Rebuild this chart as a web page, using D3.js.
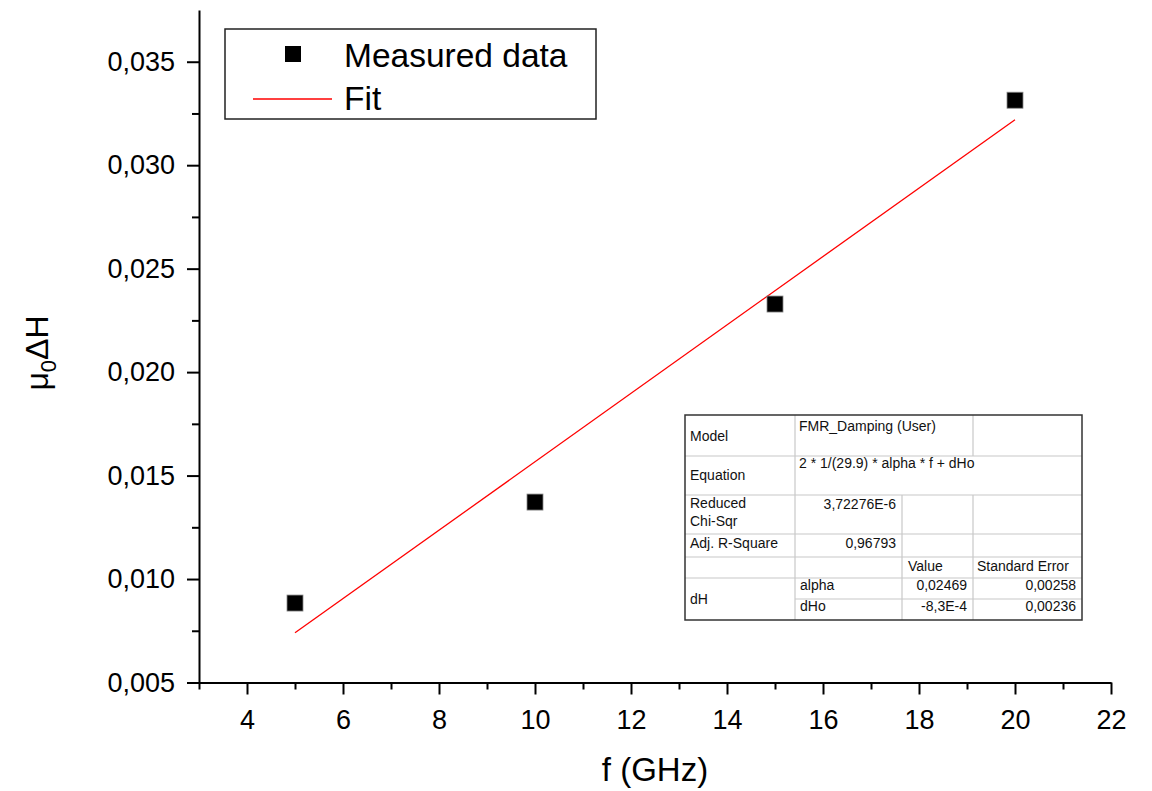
<!DOCTYPE html>
<html>
<head>
<meta charset="utf-8">
<script src="https://cdn.jsdelivr.net/npm/d3@7/dist/d3.min.js"></script>
<style>
  body { margin: 0; background: #fff; }
  svg { font-family: "Liberation Sans", Arial, sans-serif; }
</style>
</head>
<body>
<svg id="chart"></svg>
<script>
// data
var freq = [5, 10, 15, 20];
var linewidth = [0.00884, 0.01372, 0.02329, 0.03314];
var fitFreq = [5, 20];
var fitWidth = [0.0074, 0.0322];
var xTicks = [4, 6, 8, 10, 12, 14, 16, 18, 20, 22];
var xMinor = [3, 5, 7, 9, 11, 13, 15, 17, 19, 21];
var yTicks = [0.005, 0.010, 0.015, 0.020, 0.025, 0.030, 0.035];
var yMinor = [0.0075, 0.0125, 0.0175, 0.0225, 0.0275, 0.0325];
var legendLabels = ['Measured data', 'Fit'];

// fit report table (text only)
var tableModel = ['Model', 'FMR_Damping (User)'];
var tableEquation = ['Equation', '2 * 1/(29.9) * alpha * f + dHo'];
var tableChi = ['Reduced', 'Chi-Sqr', '3,72276E-6'];
var tableR2 = ['Adj. R-Square', '0,96793'];
var tableHeader = ['Value', 'Standard Error'];
var tableParams = [
  ['alpha', '0,02469', '0,00258'],
  ['dHo', '-8,3E-4', '0,00236']
];

var width = 1152;
var height = 791;

var svg = d3.select('#chart')
  .attr('width', width)
  .attr('height', height);

var x = d3.scaleLinear().domain([3, 22]).range([199, 1111]);
var y = d3.scaleLinear().domain([0.005, 0.0375]).range([682.5, 10]);

var comma = function(d) { return d3.format('.3f')(d).replace('.', ','); };

// y axis
var yAxis = svg.append('g')
  .attr('transform', 'translate(' + x(3) + ',0)')
  .call(d3.axisLeft(y).tickValues(yTicks).tickSize(12).tickSizeOuter(0).tickPadding(12).tickFormat(comma));
yAxis.select('.domain').attr('stroke-width', 2);
yAxis.selectAll('.tick line').attr('stroke-width', 2);
yAxis.selectAll('text').style('font-size', '27px').attr('fill', '#000');

svg.append('g')
  .attr('transform', 'translate(' + x(3) + ',0)')
  .call(d3.axisLeft(y).tickValues(yMinor).tickSize(7).tickFormat(''))
  .call(g => g.select('.domain').remove())
  .selectAll('line').attr('stroke-width', 2);

// x axis
var xAxis = svg.append('g')
  .attr('transform', 'translate(0,' + y(0.005) + ')')
  .call(d3.axisBottom(x).tickValues(xTicks).tickSize(12).tickSizeOuter(0).tickPadding(15));
xAxis.select('.domain').attr('stroke-width', 2);
xAxis.selectAll('.tick line').attr('stroke-width', 2);
xAxis.selectAll('text').style('font-size', '27px').attr('fill', '#000');

svg.append('g')
  .attr('transform', 'translate(0,' + y(0.005) + ')')
  .call(d3.axisBottom(x).tickValues(xMinor).tickSize(7).tickFormat(''))
  .call(g => g.select('.domain').remove())
  .selectAll('line').attr('stroke-width', 2);

// axis titles
svg.append('text')
  .attr('x', (x(3) + x(22)) / 2)
  .attr('y', 781)
  .attr('text-anchor', 'middle')
  .style('font-size', '33px')
  .text('f (GHz)');

var yTitle = svg.append('text')
  .attr('transform', 'translate(48,' + 353 + ') rotate(-90)')
  .attr('text-anchor', 'middle')
  .style('font-size', '32px');
yTitle.append('tspan').text('\u03bc');
yTitle.append('tspan').attr('dy', 8).style('font-size', '22px').text('0');
yTitle.append('tspan').attr('dy', -8).text('\u0394H');

// fit line
svg.append('path')
  .datum(fitFreq.map((f, i) => [f, fitWidth[i]]))
  .attr('fill', 'none')
  .attr('stroke', '#ff0000')
  .attr('stroke-width', 1.3)
  .attr('d', d3.line().x(d => x(d[0])).y(d => y(d[1])));

// measured points
var size = 16;
svg.selectAll('rect.pt')
  .data(freq)
  .enter()
  .append('rect')
    .attr('class', 'pt')
    .attr('x', d => x(d) - size / 2)
    .attr('y', (d, i) => y(linewidth[i]) - size / 2)
    .attr('width', size)
    .attr('height', size)
    .attr('fill', '#000')
    .attr('stroke', '#888')
    .attr('stroke-width', 0.8);

// legend
var legend = svg.append('g');
legend.append('rect')
  .attr('x', 225).attr('y', 29)
  .attr('width', 371).attr('height', 90)
  .attr('fill', '#fff')
  .attr('stroke', '#222')
  .attr('stroke-width', 1.5);
legend.append('rect')
  .attr('x', 293 - 8).attr('y', 54 - 8)
  .attr('width', 16).attr('height', 16)
  .attr('fill', '#000');
legend.append('line')
  .attr('x1', 253).attr('x2', 332)
  .attr('y1', 99).attr('y2', 99)
  .attr('stroke', '#ff0000')
  .attr('stroke-width', 1.3);
legend.selectAll('text')
  .data(legendLabels)
  .enter()
  .append('text')
    .attr('x', 344)
    .attr('y', (d, i) => 67 + i * 43)
    .style('font-size', '33.5px')
    .text(d => d);

// fit report table
var cx = [685, 795, 902, 973, 1082];
var ry = [415, 456, 495, 534, 557, 578, 599, 620];
var tbl = svg.append('g').style('font-size', '14px').attr('fill', '#111');
var grid = '#c8c8c8';

var hLines = [[cx[0], ry[1]], [cx[0], ry[2]], [cx[0], ry[3]], [cx[0], ry[4]], [cx[0], ry[5]], [cx[1], ry[6]]];
tbl.selectAll('line.h')
  .data(hLines)
  .enter()
  .append('line')
    .attr('x1', d => d[0]).attr('x2', cx[4])
    .attr('y1', d => d[1]).attr('y2', d => d[1])
    .attr('stroke', grid).attr('stroke-width', 1.2);

var vLines = [[cx[1], ry[0], ry[7]], [cx[2], ry[2], ry[7]], [cx[3], ry[0], ry[1]], [cx[3], ry[2], ry[7]]];
tbl.selectAll('line.v')
  .data(vLines)
  .enter()
  .append('line')
    .attr('x1', d => d[0]).attr('x2', d => d[0])
    .attr('y1', d => d[1]).attr('y2', d => d[2])
    .attr('stroke', grid).attr('stroke-width', 1.2);

tbl.append('rect')
  .attr('x', cx[0]).attr('y', ry[0])
  .attr('width', cx[4] - cx[0]).attr('height', ry[7] - ry[0])
  .attr('fill', 'none')
  .attr('stroke', '#333')
  .attr('stroke-width', 1.5);

var cells = [
  [tableModel[0], cx[0] + 5, 441, 'start'],
  [tableModel[1], cx[1] + 4, 431, 'start'],
  [tableEquation[0], cx[0] + 5, 480, 'start'],
  [tableEquation[1], cx[1] + 4, 468, 'start'],
  [tableChi[0], cx[0] + 5, 508, 'start'],
  [tableChi[1], cx[0] + 5, 526, 'start'],
  [tableChi[2], cx[2] - 6, 509, 'end'],
  [tableR2[0], cx[0] + 5, 548, 'start'],
  [tableR2[1], cx[2] - 6, 548, 'end'],
  [tableHeader[0], cx[2] + 6, 571, 'start'],
  [tableHeader[1], cx[3] + 4, 571, 'start'],
  ['dH', cx[0] + 5, 604, 'start']
];
tableParams.forEach(function(p, i) {
  var by = 590 + i * 21;
  cells.push([p[0], cx[1] + 5, by, 'start']);
  cells.push([p[1], cx[3] - 6, by, 'end']);
  cells.push([p[2], cx[4] - 6, by, 'end']);
});

tbl.selectAll('text')
  .data(cells)
  .enter()
  .append('text')
    .attr('x', d => d[1])
    .attr('y', d => d[2])
    .attr('text-anchor', d => d[3])
    .text(d => d[0]);
</script>
</body>
</html>
